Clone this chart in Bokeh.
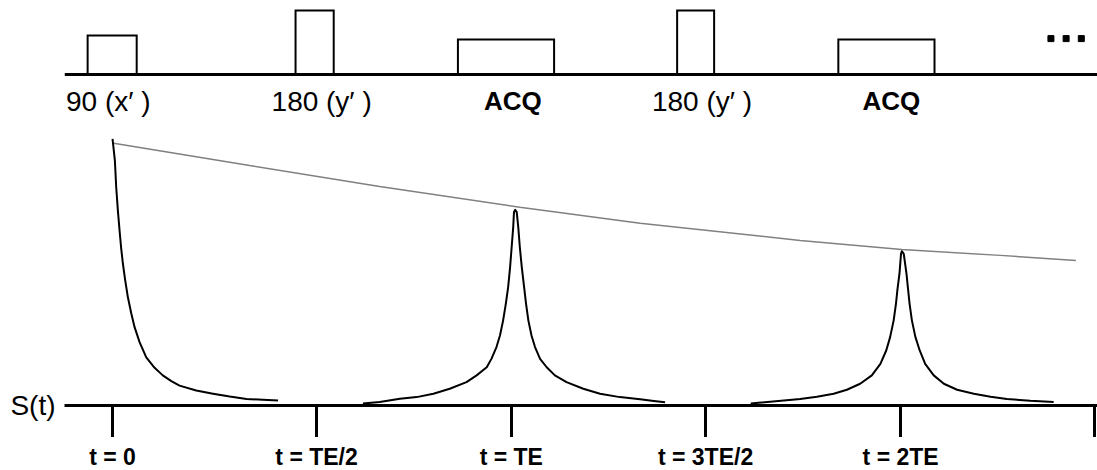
from bokeh.plotting import figure
from bokeh.layouts import column
from bokeh.models import Range1d, FixedTicker, Span, ColumnDataSource
from bokeh.core.properties import value
from bokeh.embed import file_html
from bokeh.resources import INLINE

# ---------------- data (time in units of TE) ----------------
tick_t = [0.0, 0.524, 1.024, 1.523, 2.024, 2.522]
tick_labels = ["t = 0", "t = TE/2", "t = TE", "t = 3TE/2", "t = 2TE", ""]
signal_label = "S(t)"

# pulse sequence (heights in units of the 90-degree pulse)
pulse_names = ["90 (x′ )", "180 (y′ )", "ACQ", "180 (y′ )", "ACQ"]
pulse_start = [-0.064, 0.470, 0.887, 1.450, 1.864]
pulse_end = [0.062, 0.568, 1.134, 1.545, 2.111]
pulse_height = [1.0, 1.64, 0.90, 1.64, 0.90]
pulse_is_acq = [False, False, True, False, True]
label_t = [-0.011, 0.537, 1.028, 1.514, 2.0]
dots_t = [2.410, 2.449, 2.488]
dots_level = [0.92, 0.92, 0.92]

# signal: FID after the 90 pulse
fid_t = [0.000, 0.0060, 0.0094, 0.0137, 0.0180, 0.0223, 0.0266, 0.0326, 0.0394, 0.0480,
         0.0566, 0.0694, 0.0866, 0.108, 0.129, 0.151, 0.172, 0.215, 0.258, 0.301,
         0.344, 0.386, 0.425]
fid_s = [1.018, 0.935, 0.833, 0.744, 0.668, 0.598, 0.541, 0.477, 0.413, 0.352,
         0.299, 0.242, 0.184, 0.144, 0.115, 0.093, 0.076, 0.057, 0.045, 0.034,
         0.025, 0.022, 0.019]

# first echo
echo1_t = [0.643, 0.686, 0.738, 0.781, 0.824, 0.866, 0.909, 0.935, 0.961, 0.973, 0.986,
           0.995, 1.003, 1.010, 1.016, 1.021, 1.025, 1.029, 1.031, 1.034,
           1.038, 1.042, 1.046, 1.051, 1.057, 1.062, 1.068, 1.076, 1.085, 1.098,
           1.115, 1.136, 1.166, 1.209, 1.252, 1.303, 1.355, 1.390, 1.419]
echo1_s = [0.008, 0.013, 0.026, 0.032, 0.045, 0.064, 0.089, 0.115, 0.146, 0.178, 0.223,
           0.267, 0.324, 0.388, 0.452, 0.528, 0.604, 0.681, 0.738, 0.747,
           0.738, 0.681, 0.604, 0.528, 0.452, 0.388, 0.324, 0.267, 0.223, 0.178,
           0.146, 0.115, 0.089, 0.064, 0.045, 0.032, 0.024, 0.017, 0.012]

# second echo
echo2_t = [1.639, 1.766, 1.809, 1.852, 1.886, 1.920, 1.950, 1.972, 1.987, 1.997, 2.006,
           2.012, 2.016, 2.021, 2.025, 2.027,
           2.032, 2.039, 2.043, 2.047, 2.053, 2.062, 2.073, 2.087, 2.109, 2.135,
           2.169, 2.212, 2.255, 2.297, 2.357, 2.417]
echo2_s = [0.008, 0.025, 0.033, 0.045, 0.060, 0.083, 0.115, 0.159, 0.210, 0.261, 0.324,
           0.388, 0.445, 0.503, 0.579, 0.589,
           0.579, 0.503, 0.445, 0.388, 0.324, 0.261, 0.210, 0.159, 0.115, 0.083,
           0.060, 0.045, 0.033, 0.025, 0.018, 0.013]

# T2 envelope
env_t = [0.003, 0.352, 0.686, 1.046, 1.355, 1.766, 2.027, 2.280, 2.474]
env_s = [1.001, 0.916, 0.836, 0.757, 0.696, 0.630, 0.595, 0.573, 0.553]

# ---------------- main figure ----------------
FONT = "Liberation Sans"

p = figure(width=1097, height=437, output_backend="svg", toolbar_location=None,
           x_range=Range1d(-0.1234, 2.5296), y_range=Range1d(0, 1.5458),
           min_border_left=64, min_border_right=0, min_border_top=0, min_border_bottom=32)
p.outline_line_color = None
p.xgrid.visible = False
p.ygrid.visible = False
p.background_fill_color = "white"
p.border_fill_color = "white"

p.extra_y_ranges = {"seq": Range1d(-8.487, 1.897)}

# x axis (time): line and ticks; labels are set in the strip below
xa = p.xaxis[0]
xa.ticker = FixedTicker(ticks=tick_t)
xa.major_label_overrides = {t: "" for t in tick_t}
xa.axis_line_width = 3
xa.axis_line_color = "black"
xa.major_tick_line_width = 3
xa.major_tick_line_color = "black"
xa.major_tick_in = 0
xa.major_tick_out = 32
xa.minor_tick_line_color = None
xa.major_label_standoff = 0
xa.major_label_text_font_size = "0px"

# y axis: only the S(t) label at the baseline
ya = p.yaxis[0]
ya.ticker = FixedTicker(ticks=[0])
ya.major_label_overrides = {0: signal_label}
ya.axis_line_color = None
ya.major_tick_line_color = None
ya.minor_tick_line_color = None
ya.major_tick_in = 0
ya.major_tick_out = 0
ya.major_label_standoff = 9
ya.major_label_text_font = FONT
ya.major_label_text_font_size = "28px"
ya.major_label_text_color = "black"

# ---------------- pulse sequence ----------------
p.add_layout(Span(location=0, dimension="width", y_range_name="seq",
                  line_color="black", line_width=3))
p.quad(left=pulse_start, right=pulse_end, bottom=[0] * len(pulse_start), top=pulse_height,
       fill_color=None, line_color="black", line_width=2, line_join="miter",
       y_range_name="seq")
p.scatter(x=dots_t, y=dots_level, marker="square", size=6, fill_color="black",
          line_color="black", y_range_name="seq")

norm = [(t, n) for t, n, a in zip(label_t, pulse_names, pulse_is_acq) if not a]
acq = [(t, n) for t, n, a in zip(label_t, pulse_names, pulse_is_acq) if a]
src_norm = ColumnDataSource(dict(x=[a for a, _ in norm], y=[-0.69] * len(norm), text=[b for _, b in norm]))
src_acq = ColumnDataSource(dict(x=[a for a, _ in acq], y=[-0.69] * len(acq), text=[b for _, b in acq]))
p.text(x="x", y="y", text="text", source=src_norm, y_range_name="seq",
       text_font=value(FONT), text_font_size="28px", text_align="center",
       text_baseline="middle", text_color="black")
p.text(x="x", y="y", text="text", source=src_acq, y_range_name="seq",
       text_font=value(FONT), text_font_size="26px", text_font_style="bold",
       text_align="center", text_baseline="middle", text_color="black")

# ---------------- signal ----------------
p.line(env_t, env_s, line_color="#808080", line_width=1.5)
for tt, ss in ((fid_t, fid_s), (echo1_t, echo1_s), (echo2_t, echo2_s)):
    p.line(tt, ss, line_color="black", line_width=2, line_join="round")

# ---------------- tick-label strip under the axis ----------------
q = figure(width=1097, height=33, output_backend="svg", toolbar_location=None,
           x_range=p.x_range, y_range=Range1d(0, 1),
           x_axis_type=None, y_axis_type=None,
           min_border_left=64, min_border_right=0, min_border_top=0, min_border_bottom=0)
q.outline_line_color = None
q.xgrid.visible = False
q.ygrid.visible = False
q.background_fill_color = "white"
q.border_fill_color = "white"
lab_src = ColumnDataSource(dict(x=tick_t[:5], y=[0.42] * 5, text=tick_labels[:5]))
q.text(x="x", y="y", text="text", source=lab_src,
       text_font=value(FONT), text_font_size="23px", text_font_style="bold",
       text_align="center", text_baseline="middle", text_color="black")

layout = column(p, q, spacing=0)
open("out.html", "w").write(file_html(layout, INLINE))
